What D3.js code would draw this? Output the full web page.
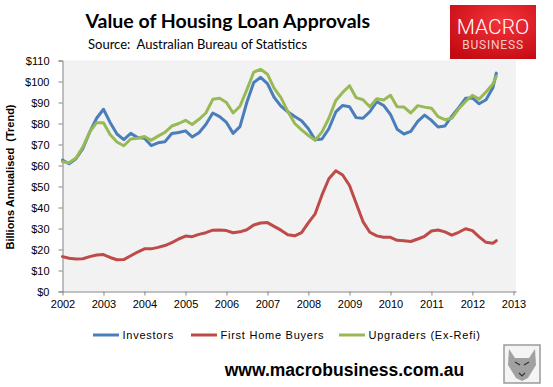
<!DOCTYPE html>
<html>
<head>
<meta charset="utf-8">
<script src="https://cdn.jsdelivr.net/npm/d3@7"></script>
<style>
  body { margin: 0; background: #fff; }
  svg { display: block; }
  text { font-family: "Lato", "Liberation Sans", sans-serif; white-space: pre; }
</style>
</head>
<body>
<script>
// every second month, Jan 2002 .. Jul 2012, then Aug 2012
const dates = [
  "2002-01","2002-03","2002-05","2002-07","2002-09","2002-11",
  "2003-01","2003-03","2003-05","2003-07","2003-09","2003-11",
  "2004-01","2004-03","2004-05","2004-07","2004-09","2004-11",
  "2005-01","2005-03","2005-05","2005-07","2005-09","2005-11",
  "2006-01","2006-03","2006-05","2006-07","2006-09","2006-11",
  "2007-01","2007-03","2007-05","2007-07","2007-09","2007-11",
  "2008-01","2008-03","2008-05","2008-07","2008-09","2008-11",
  "2009-01","2009-03","2009-05","2009-07","2009-09","2009-11",
  "2010-01","2010-03","2010-05","2010-07","2010-09","2010-11",
  "2011-01","2011-03","2011-05","2011-07","2011-09","2011-11",
  "2012-01","2012-03","2012-05","2012-07","2012-08"
];

const investors = [
  62.6, 60.8, 63.2, 68, 76, 82.5,
  86.8, 80.5, 75, 72.3, 75.3, 73.3,
  73, 69.5, 70.8, 71.3, 75.2, 75.7,
  76.5, 73.6, 75.6, 79.5, 85, 83.3,
  80.5, 75.3, 78.5, 90, 99.5, 102,
  99, 92.5, 88.3, 85.6, 83.3, 81.3,
  77.5, 72.2, 72.6, 77.5, 85.5, 88.6,
  88, 82.8, 82.5, 85.6, 90.4, 88.6,
  84.3, 77.3, 75, 76.3, 81, 84,
  81.5, 78.3, 78.8, 83.5, 87.5, 92,
  92.2, 89.4, 91.3, 97, 104
];

const firstHomeBuyers = [
  16.6, 15.8, 15.5, 15.6, 16.6, 17.4,
  17.6, 16.2, 15.1, 15.2, 17, 18.8,
  20.3, 20.3, 21, 21.9, 23.3, 25,
  26.4, 26.1, 27.2, 28, 29.2, 29.3,
  29, 28, 28.4, 29.4, 31.7, 32.6,
  32.8, 31, 29.2, 27, 26.5, 28,
  32.8, 37, 46, 53.7, 57.5, 55.5,
  50.5, 42, 33.3, 28.2, 26.5, 25.8,
  25.8, 24.4, 24.2, 23.8, 25, 26.3,
  28.8, 29.3, 28.4, 26.8, 28.2, 29.9,
  29, 26, 23.4, 23, 24.2
];

const upgraders = [
  61.8, 61.3, 63.6, 68.8, 76, 80.4,
  80.4, 74.8, 71.2, 69.4, 72.6, 73,
  73.8, 72, 74, 75.8, 78.8, 80,
  81.5, 79.5, 82, 85, 91.5, 92,
  90, 85, 88.2, 96, 104.5, 105.8,
  103.5, 96.8, 92.3, 85.8, 80, 77,
  74.3, 72, 76, 82.5, 91, 94.8,
  98, 92.3, 91.3, 88, 91.8, 91.2,
  93.4, 88, 87.8, 85, 88.5, 87.8,
  87.3, 83.3, 81.8, 82.5, 87, 90.5,
  93.4, 91.6, 95, 98.8, 102.5
];

const seriesNames = ["Investors", "First Home Buyers", "Upgraders (Ex-Refi)"];
const seriesColors = ["#4a7ebb", "#be4b48", "#98b954"];
const yTicks = [0, 10, 20, 30, 40, 50, 60, 70, 80, 90, 100, 110];
const xYears = [2002, 2003, 2004, 2005, 2006, 2007, 2008, 2009, 2010, 2011, 2012, 2013];

const W = 553, H = 387;
const svg = d3.select("body").append("svg")
    .attr("width", W)
    .attr("height", H);

const parse = d3.timeParse("%Y-%m");
const x = d3.scaleTime()
    .domain([new Date(2002, 0, 1), new Date(2013, 0, 1)])
    .range([62.5, 513.5]);
const y = d3.scaleLinear()
    .domain([0, 110])
    .range([291.5, 60.5]);

// plot area
svg.append("rect")
    .attr("x", 62.5).attr("y", 60.5)
    .attr("width", 516 - 62.5).attr("height", 291.5 - 60.5)
    .attr("fill", "#f2f2f2");

// axes
const yAxis = svg.append("g")
    .attr("transform", "translate(62.5,0)")
    .call(d3.axisLeft(y).tickValues(yTicks).tickSize(4).tickPadding(9).tickFormat(d => "$" + d));
const xAxis = svg.append("g")
    .attr("transform", "translate(0,291.5)")
    .call(d3.axisBottom(x).tickValues(xYears.map(v => new Date(v, 0, 1))).tickSize(4).tickPadding(5)
        .tickFormat(d3.timeFormat("%Y")));
xAxis.select(".domain").attr("d", "M62.5,0.5H516.5");
[yAxis, xAxis].forEach(a => {
  a.select(".domain").attr("stroke", "#868686");
  a.selectAll(".tick line").attr("stroke", "#868686");
  a.selectAll(".tick text").attr("fill", "#000").attr("font-size", "11px")
      .style("font-family", "'Liberation Sans', sans-serif");
});

// lines
const allSeries = [investors, firstHomeBuyers, upgraders];
const line = d3.line()
    .x((d, i) => x(parse(dates[i])))
    .y(d => y(d));
svg.append("g").selectAll("path")
    .data(allSeries)
    .enter()
    .append("path")
    .attr("d", d => line(d))
    .attr("fill", "none")
    .attr("stroke", (d, i) => seriesColors[i])
    .attr("stroke-width", 3)
    .attr("stroke-linejoin", "round")
    .attr("stroke-linecap", "round");

// y axis title
svg.append("text")
    .attr("transform", "translate(14,177) rotate(-90)")
    .attr("text-anchor", "middle")
    .attr("font-size", "11px")
    .attr("font-weight", "bold")
    .style("font-family", "'Liberation Sans', sans-serif")
    .text("Billions Annualised  (Trend)");

// title
svg.append("text")
    .attr("x", 85.5).attr("y", 28)
    .attr("font-size", "19.5px")
    .attr("font-weight", "bold")
    .attr("fill", "#000")
    .text("Value of Housing Loan Approvals");
svg.append("text")
    .attr("x", 88).attr("y", 49)
    .attr("font-size", "13px")
    .attr("fill", "#000")
    .text("Source:  Australian Bureau of Statistics");

// legend
const legendX = [93, 191, 339];
const legend = svg.append("g").selectAll("g")
    .data(seriesNames)
    .enter()
    .append("g")
    .attr("transform", (d, i) => `translate(${legendX[i]},335)`);
legend.append("line")
    .attr("x1", 0).attr("x2", 26)
    .attr("stroke", (d, i) => seriesColors[i])
    .attr("stroke-width", 3);
legend.append("text")
    .attr("x", 29.5).attr("y", 4)
    .attr("font-size", "11px")
    .style("font-family", "'Liberation Sans', sans-serif")
    .style("letter-spacing", "0.75px")
    .text(d => d);

// footer
svg.append("text")
    .attr("x", 344.5).attr("y", 376)
    .attr("text-anchor", "middle")
    .attr("font-size", "17.5px")
    .attr("font-weight", "bold")
    .style("font-family", "'Liberation Sans', sans-serif")
    .text("www.macrobusiness.com.au");

// logo
const defs = svg.append("defs");
const grad = defs.append("radialGradient").attr("id", "logoGrad")
    .attr("cx", "60%").attr("cy", "30%").attr("r", "80%");
grad.append("stop").attr("offset", "0%").attr("stop-color", "#f4333a");
grad.append("stop").attr("offset", "100%").attr("stop-color", "#c40a12");
svg.append("rect")
    .attr("x", 450).attr("y", 5).attr("width", 86).attr("height", 54)
    .attr("fill", "url(#logoGrad)");
svg.append("text")
    .attr("x", 493).attr("y", 34)
    .attr("text-anchor", "middle")
    .attr("font-size", "21px")
    .attr("font-weight", 300)
    .attr("fill", "#fff")
    .style("font-family", "Roboto, sans-serif")
    .text("MACRO");
svg.append("text")
    .attr("x", 493).attr("y", 49)
    .attr("text-anchor", "middle")
    .attr("font-size", "12px")
    .attr("fill", "#f6c9c9")
    .style("font-family", "Roboto, sans-serif")
    .style("letter-spacing", "0.8px")
    .text("BUSINESS");

// wolf badge
const wolf = svg.append("g").attr("transform", "translate(504,345)");
wolf.append("rect").attr("width", 36).attr("height", 38)
    .attr("fill", "#f4f4f4").attr("stroke", "#9a9a9a").attr("stroke-width", 1.5);
wolf.append("path")
    .attr("d", "M5,4 L11,13 L25,13 L31,4 L32,20 L24,33 L18,36 L12,33 L4,20 Z")
    .attr("fill", "#8c8c8c").attr("opacity", 0.8);
wolf.append("path")
    .attr("d", "M11,17 L16,20 M25,17 L20,20 M15,28 L18,31 L21,28")
    .attr("stroke", "#333").attr("stroke-width", 1.2).attr("fill", "none");
</script>
</body>
</html>
